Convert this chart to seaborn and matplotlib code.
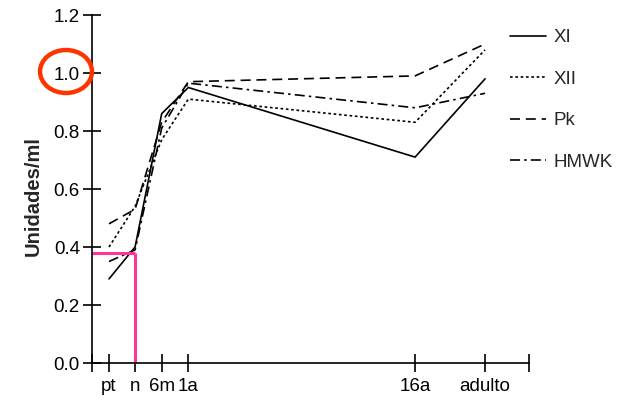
import matplotlib
matplotlib.use("Agg")
import matplotlib.pyplot as plt
from matplotlib.patches import Ellipse
from matplotlib.lines import Line2D
import seaborn as sns
import pandas as pd

# ---- data ----
categories = ["pt", "n", "6m", "1a", "16a", "adulto"]
xi = [0.29, 0.40, 0.86, 0.95, 0.71, 0.98]
xii = [0.40, 0.54, 0.77, 0.91, 0.83, 1.08]
pk = [0.48, 0.53, 0.83, 0.97, 0.99, 1.10]
hmwk = [0.35, 0.39, 0.81, 0.965, 0.88, 0.93]
series_names = ["XI", "XII", "Pk", "HMWK"]
y_ticks = [0.0, 0.2, 0.4, 0.6, 0.8, 1.0, 1.2]
marker_value = 0.38  # pink reference line
marker_category = "n"

# ---- layout (positions along x axis, not data) ----
x_positions = [0.65, 1.63, 2.63, 3.63, 12.15, 14.78]
x_end = 16.43
pos_map = dict(zip(categories, x_positions))

sns.set_theme(style="white")
plt.rcParams["font.family"] = ["Liberation Sans", "DejaVu Sans"]

rows = []
for name, vals in zip(series_names, [xi, xii, pk, hmwk]):
    for c, v in zip(categories, vals):
        rows.append({"pos": pos_map[c], "val": v, "series": name})
df = pd.DataFrame(rows)

dashes = {"XI": "", "XII": (1.6, 1.6), "Pk": (6, 3.5), "HMWK": (6, 2.5, 1.5, 2.5)}

fig = plt.figure(figsize=(6.27, 4.08), dpi=100)
ax = fig.add_axes([91.7 / 627, 45 / 408, (529 - 91.7) / 627, (363 - 15) / 408])

sns.lineplot(data=df, x="pos", y="val", style="series", dashes=dashes,
             color="black", linewidth=1.2, ax=ax, legend=False,
             style_order=series_names, estimator=None, sort=False)

# pink reference lines
mx = pos_map[marker_category]
ax.plot([0, mx], [marker_value, marker_value], color="#FF3399", lw=2.2, solid_capstyle="butt", clip_on=False)
ax.plot([mx, mx], [0, marker_value], color="#FF3399", lw=2.2, solid_capstyle="butt", clip_on=False)

ax.set_xlim(0, x_end)
ax.set_ylim(0, 1.2)
ax.set_xticks([0] + x_positions + [x_end])
ax.set_xticklabels([""] + categories + [""])
ax.set_yticks(y_ticks)
ax.set_yticklabels([f"{t:.1f}" for t in y_ticks])
ax.tick_params(axis="both", direction="inout", length=13, width=1.2, colors="black",
               labelsize=13.5, pad=2, bottom=True, left=True)
ax.tick_params(axis="x", pad=4)
for s in ["top", "right"]:
    ax.spines[s].set_visible(False)
for s in ["left", "bottom"]:
    ax.spines[s].set_color("black")
    ax.spines[s].set_linewidth(1.2)
ax.set_xlabel("")
ax.set_ylabel("Unidades/ml", fontsize=14.5, fontweight="bold", labelpad=7)
ax.yaxis.set_label_coords(-0.113, 0.48)
ax.grid(False)

# red ellipse around 1.0
circ = Ellipse((66 / 627, 1 - 71.5 / 408), 52 / 627, 43 / 408, transform=fig.transFigure,
               fill=False, edgecolor="#FF3300", lw=3.2)
fig.add_artist(circ)

# legend
handles = [Line2D([0], [0], color="black", lw=1.2,
                  linestyle="-" if dashes[n] == "" else (0, dashes[n])) for n in series_names]
fig.legend(handles, series_names, loc="upper left", bbox_to_anchor=(510 / 627, 1 - 29 / 408),
           frameon=False, fontsize=13.5, handlelength=1.9, handletextpad=0.4,
           labelspacing=1.3, borderaxespad=0, borderpad=0, handleheight=0.7)

fig.savefig("out.png", dpi=100)
